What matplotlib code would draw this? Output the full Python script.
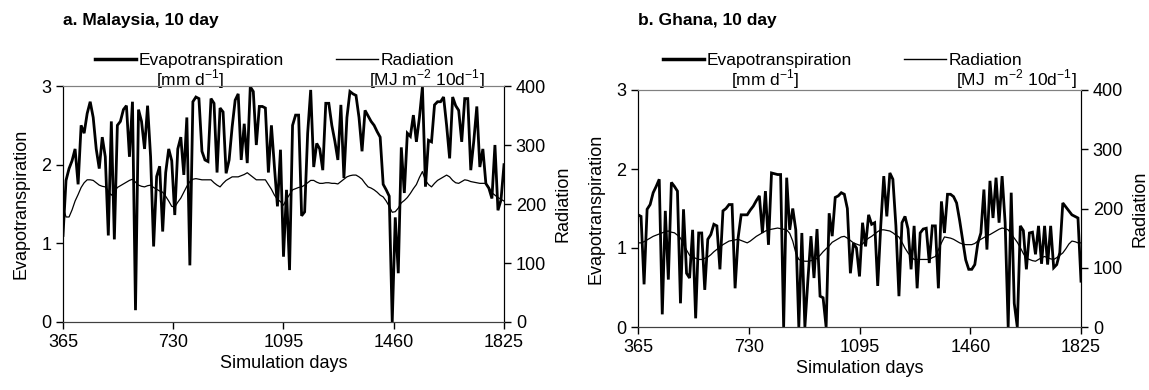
import numpy as np
import matplotlib
matplotlib.use('Agg')
import matplotlib.pyplot as plt
from matplotlib.lines import Line2D

plt.rcParams['font.family'] = 'Liberation Sans'
plt.rcParams['mathtext.fontset'] = 'custom'
plt.rcParams['mathtext.rm'] = 'Liberation Sans'

# 10-day simulation steps, years 2-5
days = np.arange(365, 1826, 10)
xticks = [365, 730, 1095, 1460, 1825]

# a. Malaysia
et_malaysia = [
    1.1, 1.8, 1.95, 2.05, 2.2, 1.75, 2.5, 2.4, 2.65, 2.8,
    2.6, 2.2, 1.95, 2.35, 2.1, 1.1, 2.55, 1.05, 2.5, 2.55,
    2.7, 2.75, 2.1, 2.8, 0.15, 2.7, 2.55, 2.2, 2.75, 2.1,
    0.96, 1.85, 1.98, 1.15, 1.9, 2.2, 2.05,
    1.36, 2.2, 2.35, 1.87, 2.6, 0.72, 2.8, 2.86, 2.84, 2.17,
    2.06, 2.04, 2.84, 2.78, 1.9, 2.72, 2.67, 1.89, 2.06, 2.48,
    2.82, 2.9, 2.06, 2.52, 2.02, 2.99, 2.93, 2.25, 2.74, 2.74,
    2.72, 1.9, 2.5, 1.97, 1.47, 2.19, 0.83,
    1.68, 0.66, 2.5, 2.63, 2.63, 1.35, 1.4, 2.4, 2.95, 1.97,
    2.27, 2.2, 1.93, 2.78, 2.78, 2.5, 2.3, 2.06, 2.76, 1.83,
    2.6, 2.93, 2.9, 2.88, 2.6, 2.17, 2.69, 2.62, 2.55, 2.5,
    2.42, 2.35, 1.75, 1.68, 1.6, 0.0,
    1.33, 0.62, 2.22, 1.64, 2.4, 2.36, 2.63, 2.29, 2.6, 2.99,
    1.72, 2.31, 2.29, 2.76, 2.8, 2.8, 2.86, 2.5, 2.08, 2.86,
    2.75, 2.69, 2.29, 2.84, 2.84, 1.93, 2.3, 2.74, 1.97, 2.2,
    1.76, 1.7, 1.57, 2.25, 1.42, 1.55, 2.0]
rad_malaysia = [
    195, 178, 178, 190, 205, 216, 228, 236, 241, 241,
    240, 236, 232, 230, 229, 222, 215, 220, 228, 231,
    234, 237, 240, 242, 237, 232, 230, 229, 231, 232,
    228, 225, 222, 220, 213, 205, 196, 195, 203, 210,
    220, 230, 238, 242, 243, 242, 241, 241, 241, 241,
    236, 232, 229, 235, 240, 243, 246, 246, 246, 248,
    250, 253, 249, 245, 241, 241, 241, 241, 233, 225,
    215, 208, 204, 198, 208, 216, 224, 226, 228, 229,
    232, 236, 240, 240, 237, 235, 235, 236, 236, 235,
    235, 234, 238, 242, 246, 248, 249, 249, 246, 242,
    235, 229, 227, 224, 220, 215, 212, 205, 196, 186,
    187, 193, 202, 206, 211, 218, 226, 233, 245, 255,
    240, 233, 229, 235, 240, 243, 246, 249, 246, 240,
    236, 235, 238, 241, 240, 238, 237, 236, 235, 235,
    235, 228, 219, 215, 211, 208, 205]

# b. Ghana
et_ghana = [
    1.42, 1.4, 0.54, 1.49, 1.55, 1.7, 1.78, 1.87, 0.16, 1.47,
    0.6, 1.83, 1.78, 1.72, 0.3, 1.49, 0.68, 0.62, 1.23, 0.11,
    1.19, 1.19, 0.47, 1.11, 1.17, 1.3, 1.28, 0.73, 1.47, 1.5,
    1.55, 1.55, 0.49, 1.13, 1.42, 1.42, 1.42, 1.48, 1.53, 1.6,
    1.66, 1.19, 1.72, 1.04, 1.95, 1.94, 1.93, 1.93, 0.0, 1.89,
    1.23, 1.5, 1.23, 0.0, 1.19, 0.0, 0.6, 1.15, 0.62, 1.24,
    0.39, 0.37, 0.0, 1.44, 1.15, 1.64, 1.66, 1.7, 1.68, 1.5,
    0.68, 1.06, 1.0, 0.64,
    1.32, 1.02, 1.42, 1.3, 1.32, 0.52,
    1.28, 1.91, 1.4, 1.95, 1.87, 1.28, 0.39, 1.32, 1.4, 1.24,
    0.73, 1.28, 0.49, 1.19, 1.24, 1.25, 0.81, 1.28, 1.28, 0.49,
    1.59, 1.19, 1.68, 1.68, 1.65, 1.57, 1.35, 1.1, 0.85, 0.73,
    0.73, 0.79, 1.06, 1.19, 1.74, 0.98, 1.85, 1.38, 1.89, 1.32,
    1.91, 1.32, 0.0, 1.7, 0.3, 0.0, 1.28, 1.22, 0.73, 1.19,
    1.2, 0.92, 1.28, 0.8, 1.28, 0.79, 1.28, 0.75, 0.79, 0.94,
    1.57, 1.52, 1.47, 1.42, 1.4, 1.38, 0.58]
rad_ghana = [
    142, 142, 144, 147, 150, 153, 155, 157, 159, 161,
    162, 160, 159, 155, 150, 140, 130, 121, 118, 116,
    114, 114, 116, 118, 122, 127, 131, 135, 139, 142,
    145, 146, 147, 148, 146, 144, 142, 145, 149, 153,
    156, 159, 162, 164, 165, 166, 167, 166, 165, 164,
    158, 145, 125, 114, 112, 111, 111, 112, 113, 116,
    121, 127, 132, 137, 143, 146, 149, 152, 153, 150,
    146, 142, 140, 138, 140, 146, 150, 153, 157, 161,
    164, 164, 163, 162, 159, 155, 152, 143, 133, 125,
    119, 114, 114, 114, 114, 114, 114, 117, 119, 130,
    142, 152, 151, 150, 148, 145, 142, 140, 139, 139,
    139, 141, 145, 148, 151, 154, 156, 159, 162, 165,
    167, 166, 164, 157, 150, 143, 134, 124, 116, 114,
    112, 111, 114, 117, 119, 117, 115, 114, 117, 121,
    125, 132, 140, 145, 144, 142, 142]

FS = 13
LFS = 12.5
W, H = 1149, 390


def panel(rect, title, et, rad, rad_unit, leg_x, unit_x, top_px):
    ax = fig.add_axes(rect)
    ax.plot(days, et, color='black', lw=2.0, solid_joinstyle='miter')
    ax.set_xlim(365, 1825)
    ax.set_ylim(0, 3)
    ax.set_xticks(xticks)
    ax.set_yticks([0, 1, 2, 3])
    ax.set_xlabel('Simulation days', fontsize=FS, labelpad=3)
    ax.set_ylabel('Evapotranspiration', fontsize=FS, labelpad=8)
    ax.tick_params(labelsize=FS, length=5, width=1, direction='out')
    ax.spines['top'].set_color('#808080')
    ax.spines['bottom'].set_color('#404040')

    ax2 = ax.twinx()
    ax2.plot(days, rad, color='black', lw=0.9)
    ax2.set_ylim(0, 400)
    ax2.set_yticks([0, 100, 200, 300, 400])
    ax2.set_ylabel('Radiation', fontsize=FS, labelpad=6)
    ax2.tick_params(labelsize=FS, length=5, width=1, direction='out')
    ax2.spines['top'].set_color('#808080')
    ax2.spines['bottom'].set_color('#404040')

    hpx = rect[3] * H
    ax.text(-0.0, 1 + (top_px - 20) / hpx, title, transform=ax.transAxes,
            fontsize=LFS, fontweight='bold', ha='left', va='center')
    handles = [Line2D([], [], color='black', lw=2.5),
               Line2D([], [], color='black', lw=1.0)]
    ax.legend(handles, ['Evapotranspiration', 'Radiation'], ncol=2,
              frameon=False, fontsize=LFS, loc='center left',
              bbox_to_anchor=(leg_x, 1 + (top_px - 60) / hpx),
              borderpad=0, borderaxespad=0, handlelength=2.4,
              handletextpad=0.15, columnspacing=3.0)
    ax.text(unit_x[0], 1 + (top_px - 79) / hpx, r'[mm d$^{\mathregular{-1}}$]',
            transform=ax.transAxes, fontsize=LFS, ha='center', va='center')
    ax.text(unit_x[1], 1 + (top_px - 79) / hpx, rad_unit,
            transform=ax.transAxes, fontsize=LFS, ha='center', va='center')
    return ax


fig = plt.figure(figsize=(W / 100, H / 100), dpi=100)

panel([63 / W, (H - 322) / H, 441 / W, 236 / H], 'a. Malaysia, 10 day',
      et_malaysia, rad_malaysia,
      r'[MJ m$^{\mathregular{-2}}$ 10d$^{\mathregular{-1}}$]',
      0.072, (0.288, 0.825), 86)
panel([638 / W, (H - 327) / H, 443 / W, 237 / H], 'b. Ghana, 10 day',
      et_ghana, rad_ghana,
      r'[MJ  m$^{\mathregular{-2}}$ 10d$^{\mathregular{-1}}$]',
      0.056, (0.287, 0.853), 90)

fig.savefig('out.png', dpi=100)
